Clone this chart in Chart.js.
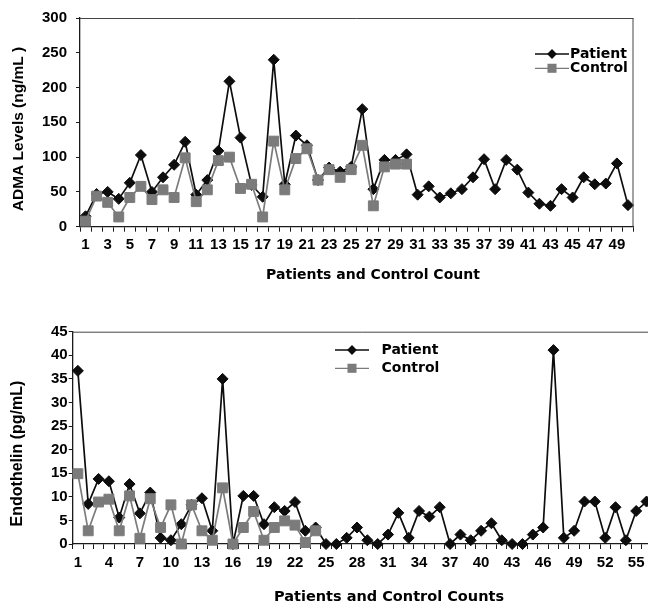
<!DOCTYPE html>
<html><head><meta charset="utf-8">
<script src="https://cdn.jsdelivr.net/npm/chart.js@4.4.1/dist/chart.umd.min.js"></script>
<style>
html,body{margin:0;padding:0;background:#fff;overflow:hidden;width:648px;height:607px}
#c1{position:absolute;left:0;top:0}
#c2{position:absolute;left:0;top:300px}
</style></head><body>
<canvas id="c1" width="648" height="300" style="width:648px;height:300px"></canvas>
<canvas id="c2" width="690" height="307" style="width:690px;height:307px"></canvas>
<script>
// ---------- data: ADMA chart ----------
const admaCategories = ['1','2','3','4','5','6','7','8','9','10','11','12','13','14','15','16','17','18','19','20','21','22','23','24','25','26','27','28','29','30','31','32','33','34','35','36','37','38','39','40','41','42','43','44','45','46','47','48','49','50'];
const admaTickLabels = ['1','3','5','7','9','11','13','15','17','19','21','23','25','27','29','31','33','35','37','39','41','43','45','47','49'];
const admaPatient = [15,47,50,40,63,103,50,71,89,122,46,67,109,209,128,60,43,240,61,131,117,67,85,79,86,169,54,96,96,104,46,58,42,48,54,71,97,54,96,82,49,33,30,54,42,71,61,62,91,31];
const admaControl = [8,44,35,14,42,58,39,53,42,99,36,53,95,100,55,61,14,123,53,98,112,67,82,71,82,117,30,86,90,90];
const admaYTicks = [0,50,100,150,200,250,300];

// ---------- data: Endothelin chart ----------
const etCategories = ['1','2','3','4','5','6','7','8','9','10','11','12','13','14','15','16','17','18','19','20','21','22','23','24','25','26','27','28','29','30','31','32','33','34','35','36','37','38','39','40','41','42','43','44','45','46','47','48','49','50','51','52','53','54','55','56'];
const etTickLabels = ['1','4','7','10','13','16','19','22','25','28','31','34','37','40','43','46','49','52','55'];
const etPatient = [36.7,8.5,13.8,13.3,5.6,12.7,6.5,10.9,1.3,0.8,4.2,8.3,9.7,2.8,35,0,10.2,10.2,4.2,7.8,7.0,8.9,2.8,3.5,0,0,1.3,3.5,0.8,0,2.0,6.6,1.3,7.0,5.8,7.8,0,2.0,0.8,2.8,4.4,0.8,0,0,2.0,3.5,41.1,1.3,2.8,9.0,9.0,1.3,7.8,0.8,7.0,9.0];
const etControl = [14.9,2.8,8.9,9.5,2.8,10.2,1.2,9.6,3.5,8.3,0,8.3,2.8,0.8,11.9,0,3.5,6.9,0.8,3.5,4.9,4.0,0.3,2.8];
const etYTicks = [0,5,10,15,20,25,30,35,40,45];

const seriesNames = ['Patient','Control'];
const admaXTitle = 'Patients and Control Count';
const admaYTitle = 'ADMA Levels (ng/mL )';
const etXTitle = 'Patients and Control Counts';
const etYTitle = 'Endothelin (pg/mL)';

// ---------- styling ----------
const PATIENT_COLOR = '#0d0d0d';
const CONTROL_COLOR = '#7b7b7b';
const AXIS_COLOR = '#1a1a1a';
const SANS = "Arial, 'Liberation Sans', Helvetica, sans-serif";
const WIDE = "'DejaVu Sans', Verdana, sans-serif";
Chart.defaults.font.family = SANS;
Chart.defaults.color = '#000';

const decor = {
  id: 'decor',
  afterDraw(chart, args, o) {
    const {ctx, chartArea: a} = chart;
    ctx.save();
    ctx.strokeStyle = o.frameColor; ctx.lineWidth = 1;
    ctx.beginPath();
    ctx.moveTo(a.left, a.top + 0.5); ctx.lineTo(Math.min(a.right, chart.width), a.top + 0.5);
    if (o.rightBorder) { ctx.moveTo(a.right - 0.5, a.top); ctx.lineTo(a.right - 0.5, a.bottom); }
    ctx.stroke();
    // axis titles
    ctx.fillStyle = '#000';
    ctx.textAlign = 'center'; ctx.textBaseline = 'middle';
    ctx.font = o.xTitle.font;
    ctx.fillText(o.xTitle.text, o.xTitle.x, o.xTitle.y);
    ctx.save();
    ctx.translate(o.yTitle.x, o.yTitle.y); ctx.rotate(-Math.PI / 2);
    ctx.font = o.yTitle.font;
    ctx.fillText(o.yTitle.text, 0, 0);
    ctx.restore();
    // legend
    const L = o.legend;
    chart.data.datasets.forEach((ds, i) => {
      const y = L.y + i * L.gap;
      ctx.strokeStyle = ds.borderColor; ctx.lineWidth = 1.3;
      ctx.beginPath(); ctx.moveTo(L.x, y); ctx.lineTo(L.x + L.len, y); ctx.stroke();
      ctx.fillStyle = ds.pointBackgroundColor; ctx.strokeStyle = ds.pointBorderColor;
      Chart.helpers.drawPoint(ctx, {pointStyle: ds.pointStyle, radius: L.r[i], borderWidth: 1, rotation: 0}, L.x + L.len / 2, y);
      ctx.fillStyle = '#000'; ctx.textAlign = 'left'; ctx.textBaseline = 'middle';
      ctx.font = L.font;
      ctx.fillText(ds.label, L.textX, y);
    });
    ctx.restore();
  }
};

function makeDatasets(patient, control, pr, cr) {
  return [
    {label: seriesNames[0], data: patient, borderColor: PATIENT_COLOR, backgroundColor: PATIENT_COLOR,
     pointBackgroundColor: PATIENT_COLOR, pointBorderColor: PATIENT_COLOR, pointStyle: 'rectRot',
     pointRadius: pr, borderWidth: 1.7, pointBorderWidth: 1, tension: 0, clip: false, order: 1},
    {label: seriesNames[1], data: control, borderColor: CONTROL_COLOR, backgroundColor: CONTROL_COLOR,
     pointBackgroundColor: CONTROL_COLOR, pointBorderColor: CONTROL_COLOR, pointStyle: 'rect',
     pointRadius: cr, borderWidth: 1.7, pointBorderWidth: 1, tension: 0, clip: false, order: 0}
  ];
}

function makeChart(id, cfg) {
  return new Chart(document.getElementById(id), {
    type: 'line',
    data: {labels: cfg.categories, datasets: makeDatasets(cfg.patient, cfg.control, cfg.pr, cfg.cr)},
    options: {
      responsive: false, animation: false, events: [],
      layout: {padding: cfg.padding},
      plugins: {legend: {display: false}, tooltip: {enabled: false}, decor: cfg.decor},
      scales: {
        x: {
          type: 'category', offset: true,
          grid: {display: true, offset: true, drawOnChartArea: false, drawTicks: true, tickLength: 5, color: AXIS_COLOR, lineWidth: 1},
          border: {display: true, color: AXIS_COLOR, width: 1.3},
          ticks: {autoSkip: false, maxRotation: 0, minRotation: 0, padding: cfg.xPad,
                  font: {family: SANS, size: cfg.xFont, weight: 'bold'}, color: '#000',
                  callback: function(v, i) { const l = this.getLabelForValue(v); return cfg.tickLabels.includes(l) ? l : ''; }},
          afterFit: s => { s.height = cfg.xHeight; }
        },
        y: {
          min: cfg.yTicks[0], max: cfg.yTicks[cfg.yTicks.length - 1],
          afterBuildTicks: s => { s.ticks = cfg.yTicks.map(v => ({value: v})); },
          grid: {display: true, drawOnChartArea: false, drawTicks: true, tickLength: 4, color: AXIS_COLOR},
          border: {display: true, color: AXIS_COLOR, width: 1.3},
          ticks: {padding: cfg.yPad, font: {family: SANS, size: cfg.yFont, weight: 'bold'}, color: '#000'},
          afterFit: s => { s.width = cfg.yWidth; }
        }
      }
    },
    plugins: [decor]
  });
}

makeChart('c1', {
  categories: admaCategories, tickLabels: admaTickLabels, patient: admaPatient, control: admaControl,
  yTicks: admaYTicks, pr: 5.5, cr: 7,
  padding: {left: 0, top: 18, right: 14.5, bottom: 0},
  xHeight: 73.3, yWidth: 80, xPad: 4, yPad: 9, xFont: 15, yFont: 15,
  decor: {
    frameColor: '#444', rightBorder: true,
    xTitle: {text: admaXTitle, x: 373, y: 275.5, font: "bold 14px " + WIDE},
    yTitle: {text: admaYTitle, x: 18.5, y: 129, font: "bold 15.5px " + SANS},
    legend: {x: 535, len: 34, y: 54, gap: 14.3, textX: 570, r: [4, 5.5], font: "bold 14px " + WIDE}
  }
});

makeChart('c2', {
  categories: etCategories, tickLabels: etTickLabels, patient: etPatient, control: etControl,
  yTicks: etYTicks, pr: 5.5, cr: 7,
  padding: {left: 0, top: 31.7, right: 38.3, bottom: 0},
  xHeight: 63, yWidth: 72.7, xPad: 5, yPad: 1, xFont: 15, yFont: 15,
  decor: {
    frameColor: '#444', rightBorder: false,
    xTitle: {text: etXTitle, x: 389, y: 297.5, font: "bold 14.5px " + WIDE},
    yTitle: {text: etYTitle, x: 18, y: 153.5, font: "bold 16px " + SANS},
    legend: {x: 335, len: 34, y: 50, gap: 18.3, textX: 381.5, r: [4, 5.5], font: "bold 14px " + WIDE}
  }
});
</script>
</body></html>
